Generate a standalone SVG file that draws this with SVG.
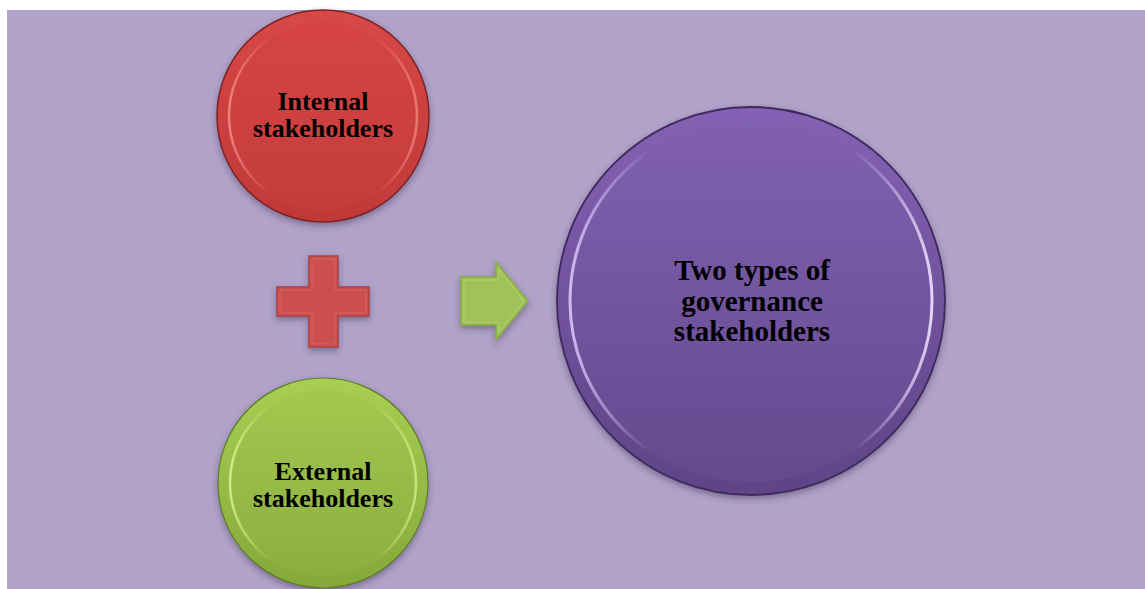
<svg xmlns="http://www.w3.org/2000/svg" width="1145" height="589" viewBox="0 0 1145 589">
<defs>
<style>
.lbl{font-family:"Liberation Serif","Times New Roman",serif;font-weight:bold;fill:#000;text-anchor:middle}
.s26{font-size:26px}
.s29{font-size:29px}
</style>
<filter id="sh" x="-20%" y="-20%" width="140%" height="140%">
<feDropShadow dx="0" dy="3" stdDeviation="3" flood-color="#3a2a50" flood-opacity="0.45"/>
</filter>
<linearGradient id="rOut" x1="0" y1="0" x2="0" y2="1"><stop offset="0" stop-color="#d84848"/><stop offset="1" stop-color="#c03838"/></linearGradient>
<linearGradient id="rIn" x1="0" y1="0" x2="0" y2="1"><stop offset="0" stop-color="#d64444"/><stop offset="1" stop-color="#c43c3c"/></linearGradient>
<linearGradient id="gOut" x1="0" y1="0" x2="0" y2="1"><stop offset="0" stop-color="#a8cf52"/><stop offset="1" stop-color="#84a83a"/></linearGradient>
<linearGradient id="gIn" x1="0" y1="0" x2="0" y2="1"><stop offset="0" stop-color="#a2c84e"/><stop offset="1" stop-color="#8cae40"/></linearGradient>
<linearGradient id="pOut" x1="0" y1="0" x2="0" y2="1"><stop offset="0" stop-color="#8462b4"/><stop offset="1" stop-color="#5e4486"/></linearGradient>
<linearGradient id="pIn" x1="0" y1="0" x2="0" y2="1"><stop offset="0" stop-color="#8060b0"/><stop offset="1" stop-color="#644a8e"/></linearGradient>
<linearGradient id="hiR" x1="0" y1="0" x2="1" y2="0"><stop offset="0" stop-color="#ff9a9a" stop-opacity="0.7"/><stop offset="0.22" stop-color="#ff9a9a" stop-opacity="0"/><stop offset="0.78" stop-color="#ff9a9a" stop-opacity="0"/><stop offset="1" stop-color="#ff9a9a" stop-opacity="0.6"/></linearGradient>
<linearGradient id="hiG" x1="0" y1="0" x2="1" y2="0"><stop offset="0" stop-color="#e6ffa0" stop-opacity="0.7"/><stop offset="0.22" stop-color="#e6ffa0" stop-opacity="0"/><stop offset="0.78" stop-color="#e6ffa0" stop-opacity="0"/><stop offset="1" stop-color="#e6ffa0" stop-opacity="0.6"/></linearGradient>
<linearGradient id="hiP" x1="0" y1="0" x2="1" y2="0"><stop offset="0" stop-color="#e0ccff" stop-opacity="0.85"/><stop offset="0.22" stop-color="#e0ccff" stop-opacity="0"/><stop offset="0.78" stop-color="#e0ccff" stop-opacity="0"/><stop offset="1" stop-color="#f0e4ff" stop-opacity="0.9"/></linearGradient>
</defs>
<rect x="0" y="0" width="1145" height="589" fill="#ffffff"/>
<rect x="7" y="10" width="1138" height="579" fill="#b0a2c8"/>

<g id="connectors">
<g id="plus" filter="url(#sh)">
<path d="M309,256 H338 V287 H369 V316 H338 V347 H309 V316 H277 V287 H309 Z" fill="#cc5050" stroke="#a84444" stroke-width="1.5"/>
<path d="M312,259 H335 V290 H366 V313 H335 V344 H312 V313 H280 V290 H312 Z" fill="none" stroke="#d86262" stroke-width="1"/>
</g>
<g id="arrow" filter="url(#sh)">
<path d="M461,277 H496 V262 L528,301 L496,340 V325 H461 Z" fill="#a0c25a" stroke="#88aa48" stroke-width="1.5"/>
<path d="M464,280 H499 V270 L524,301 L499,332 V322 H464 Z" fill="none" stroke="#b2d26c" stroke-width="1"/>
</g>
</g>

<g id="node-internal">
<circle cx="323" cy="116" r="106" fill="url(#rOut)" stroke="#7a2424" stroke-width="1.5" filter="url(#sh)"/>
<circle cx="323" cy="116" r="94" fill="url(#rIn)"/>
<circle cx="323" cy="116" r="94" fill="none" stroke="url(#hiR)" stroke-width="2.5"/>
<text class="lbl s26" x="323" y="110">Internal<tspan x="323" dy="27">stakeholders</tspan></text>
</g>

<g id="node-external">
<circle cx="323" cy="483" r="105" fill="url(#gOut)" stroke="#5e7a28" stroke-width="1.2" filter="url(#sh)"/>
<circle cx="323" cy="483" r="93" fill="url(#gIn)"/>
<circle cx="323" cy="483" r="93" fill="none" stroke="url(#hiG)" stroke-width="2.5"/>
<text class="lbl s26" x="323" y="480">External<tspan x="323" dy="27">stakeholders</tspan></text>
</g>

<g id="node-governance">
<circle cx="751" cy="301" r="194" fill="url(#pOut)" stroke="#3e2a5e" stroke-width="1.8" filter="url(#sh)"/>
<circle cx="751" cy="301" r="181" fill="url(#pIn)"/>
<circle cx="751" cy="301" r="181" fill="none" stroke="url(#hiP)" stroke-width="3"/>
<text class="lbl s29" x="752" y="280">Two types of<tspan x="752" dy="31">governance</tspan><tspan x="752" dy="30">stakeholders</tspan></text>
</g>
</svg>
